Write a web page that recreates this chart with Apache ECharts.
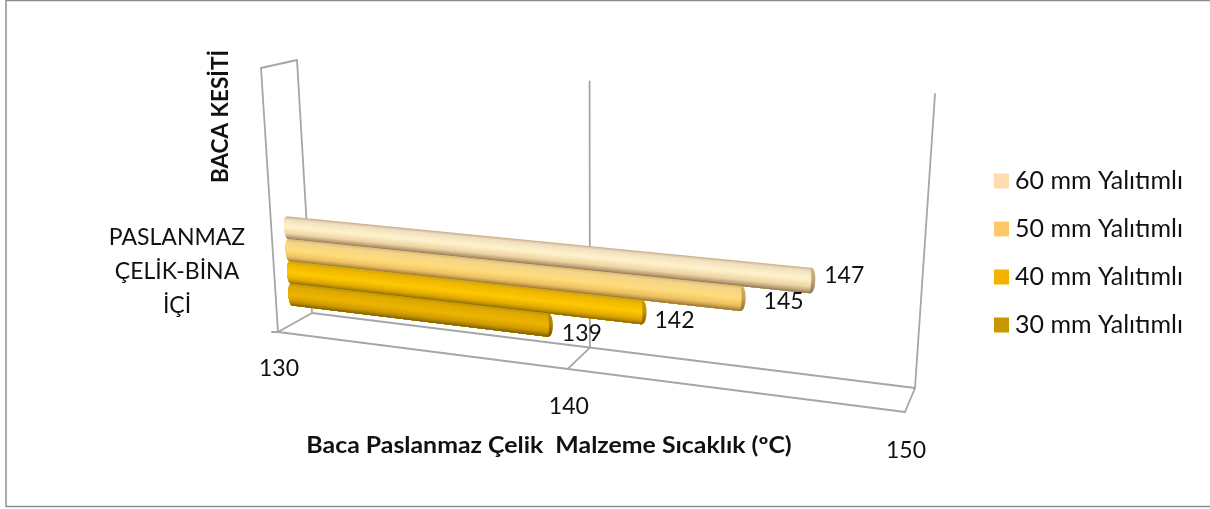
<!DOCTYPE html>
<html><head><meta charset="utf-8">
<style>html,body{margin:0;padding:0;background:#fff}#c{width:1210px;height:509px}</style>
<script src="https://cdn.jsdelivr.net/npm/echarts@6/dist/echarts.min.js"></script>
</head><body><div id="c"></div>
<script>
const categories = ['PASLANMAZ\nÇELİK-BİNA\nİÇİ'];
const seriesNames = ['60 mm Yalıtımlı','50 mm Yalıtımlı','40 mm Yalıtımlı','30 mm Yalıtımlı'];
const seriesValues = [147,145,142,139];
const xTicks = [130,140,150];
const xAxisTitle = 'Baca Paslanmaz Çelik  Malzeme Sıcaklık (ºC)';
const yAxisTitle = 'BACA KESİTİ';

const FONT = 'Lato, Carlito, sans-serif';
const legendColors = ['#FFDBAE','#FEC86A','#F3B200','#C89600'];
const shades = [
 [[0,'#C4A988'],[.12,'#F0DFBE'],[.45,'#FFF3CC'],[.75,'#EDD4A2'],[.92,'#B89C74'],[1,'#8C7658']],
 [[0,'#DDBA70'],[.14,'#F4D58A'],[.5,'#FFDC7A'],[.78,'#EFC262'],[.92,'#BE9848'],[1,'#947434']],
 [[0,'#CFA20E'],[.14,'#EDB600'],[.5,'#FFC800'],[.78,'#E3AB00'],[.92,'#B48A00'],[1,'#886600']],
 [[0,'#BE9408'],[.14,'#DEA900'],[.5,'#EDB400'],[.78,'#CF9B00'],[.92,'#A27C00'],[1,'#765A00']]
];
const labelOffsets = [[37,-7],[46,1],[36,6],[37,7]];
const wallTop = [1,0.98,1];

/* projection of the ECharts plot square onto the chart's 3D box */
function homography(p00,p10,p11,p01){
  const dx1=p10[0]-p11[0],dx2=p01[0]-p11[0],sx=p00[0]-p10[0]+p11[0]-p01[0];
  const dy1=p10[1]-p11[1],dy2=p01[1]-p11[1],sy=p00[1]-p10[1]+p11[1]-p01[1];
  const den=dx1*dy2-dx2*dy1;
  const g=(sx*dy2-dx2*sy)/den,h=(dx1*sy-sx*dy1)/den;
  const a=p10[0]-p00[0]+g*p10[0],b=p01[0]-p00[0]+h*p01[0],c=p00[0];
  const d=p10[1]-p00[1]+g*p10[1],e=p01[1]-p00[1]+h*p01[1],f=p00[1];
  return (u,v)=>{const w=g*u+h*v+1;return [(a*u+b*v+c)/w,(d*u+e*v+f)/w];};
}
const backPlane = homography([312,313],[915,388],[935,94],[297,60]);
const frontPlane = homography([278,332],[905,412],[922,107],[261,68]);
function project(u,v,depth){
  const f=frontPlane(u,v),b=backPlane(u,v);
  return [f[0]+(b[0]-f[0])*depth,f[1]+(b[1]-f[1])*depth];
}
const BAR_DEPTH=.36, BAR_H0=.115, BAR_STEP=.088, BAR_HALF=.044, STRIPS=22, BAR_DX=3, BAR_DY=-2;

function hex(c){return [1,3,5].map(i=>parseInt(c.substr(i,2),16));}
function ramp(stops,t){
  for(let i=1;i<stops.length;i++){
    if(t<=stops[i][0]){
      const a=hex(stops[i-1][1]),b=hex(stops[i][1]),k=(t-stops[i-1][0])/(stops[i][0]-stops[i-1][0]);
      return 'rgb('+a.map((x,j)=>Math.round(x+(b[j]-x)*k)).join(',')+')';
    }
  }
  return stops[stops.length-1][1];
}
function unitX(params,api,val){
  const cs=params.coordSys;
  return (api.coord([val,0])[0]-cs.x)/cs.width;
}

function barRender(si){
  return function(params,api){
    const u=unitX(params,api,api.value(0));
    const level=BAR_H0+(seriesValues.length-1-si)*BAR_STEP;
    const children=[];
    const cross=(uu,t)=>{const p=project(uu,level+BAR_HALF-2*BAR_HALF*t,BAR_DEPTH);return [p[0]+BAR_DX,p[1]+BAR_DY];};
    const bulge=t=>Math.sqrt(Math.max(0,1-Math.pow(2*t-1,2)));
    const N=22;
    for(let k=0;k<STRIPS;k++){
      const t0=k/STRIPS,col=ramp(shades[si],(k+.5)/STRIPS);
      // each strip runs from its own upper edge down to the bar's lower edge, painted over the previous one
      const poly=[];
      for(let j=0;j<=N;j++){const t=t0+(1-t0)*j/N,p=cross(u,t);poly.push([p[0]+bulge(t),p[1]]);}
      for(let j=N;j>=0;j--){const t=t0+(1-t0)*j/N,p=cross(0,t);poly.push([p[0]-3*bulge(t),p[1]]);}
      children.push({type:'polygon',shape:{points:poly},style:{fill:col},silent:true});
    }
    const cap=[];
    for(let k=0;k<=N;k++){const t=k/N,p=cross(u,t);cap.push([p[0]+1+4*bulge(t),p[1]]);}
    for(let k=N;k>=0;k--){const t=k/N,p=cross(u,t);cap.push([p[0]-1+2*bulge(t),p[1]]);}
    const mid0=cross(u,0),mid1=cross(u,1);
    children.push({type:'polygon',shape:{points:cap},style:{
      fill:new echarts.graphic.LinearGradient(mid0[0],mid0[1],mid1[0],mid1[1],
        [{offset:0,color:ramp(shades[si],.84)},{offset:.5,color:ramp(shades[si],.9)},{offset:1,color:ramp(shades[si],1)}],true)},silent:true});
    const c=cross(u,.5),o=labelOffsets[si];
    children.push({type:'text',silent:true,style:{text:String(api.value(0)),x:c[0]+o[0]-BAR_DX,y:c[1]+o[1]-BAR_DY,
      font:'23px '+FONT,fill:'#111',textAlign:'center',textVerticalAlign:'middle'}});
    return {type:'group',children};
  };
}

const wireStyle={stroke:'#A6A6A6',lineWidth:1.8,lineCap:'round'};
function line(a,b){return {type:'line',silent:true,shape:{x1:a[0],y1:a[1],x2:b[0],y2:b[1]},style:wireStyle};}
function frameRender(params,api){
  const val=api.value(0),u=unitX(params,api,val),kids=[];
  kids.push(line(project(u,0,0),project(u,0,1)));
  kids.push(line(project(u,0,1),project(u,wallTop[params.dataIndex],1)));
  if(params.dataIndex===0){
    kids.push(line(project(0,0,0),project(1,0,0)));
    kids.push(line(project(0,0,1),project(1,0,1)));
    kids.push(line(project(0,0,0),project(0,1,0)));
    kids.push(line(project(0,1,0),project(0,1,1)));
    const p=project(0,0,0);
    kids.push(line([p[0]-6,p[1]],p));
  }
  const p=project(u,0,0);
  kids.push({type:'text',silent:true,style:{text:String(val),x:p[0]+1,y:p[1]+37+2*u,font:'23px '+FONT,fill:'#111',textAlign:'center',textVerticalAlign:'middle'}});
  return {type:'group',children:kids};
}

const chart=echarts.init(document.getElementById('c'),null,{renderer:'canvas'});
chart.setOption({
  animation:false,
  backgroundColor:'#fff',
  grid:{left:300,right:300,top:100,bottom:100},
  xAxis:{type:'value',min:xTicks[0],max:xTicks[xTicks.length-1],interval:10,show:false},
  yAxis:{type:'category',data:categories,show:false},
  legend:{
    data:seriesNames,orient:'vertical',left:989,top:162,itemWidth:15,itemHeight:15,itemGap:20,icon:'rect',
    textStyle:{fontFamily:FONT,fontSize:25,lineHeight:28,color:'#111',padding:[0,0,0,1]},selectedMode:false
  },
  graphic:[
    {type:'rect',silent:true,z:-1,shape:{x:6,y:0.5,width:1210,height:506},style:{fill:'#fff',stroke:'#8E8E8E',lineWidth:1.5}},
    {type:'text',silent:true,x:549,y:446,scaleX:1.13,style:{text:xAxisTitle,x:0,y:0,font:'bold 22px '+FONT,fill:'#111',textAlign:'center',textVerticalAlign:'middle'}},
    {type:'text',silent:true,rotation:Math.PI/2,x:221,y:116.5,style:{text:yAxisTitle,x:0,y:0,font:'bold 22.5px '+FONT,fill:'#111',textAlign:'center',textVerticalAlign:'middle'}},
    {type:'text',silent:true,style:{text:categories[0],x:177,y:271.5,font:'23px '+FONT,lineHeight:34,fill:'#111',textAlign:'center',textVerticalAlign:'middle'}}
  ],
  series:[
    {type:'custom',name:'frame',coordinateSystem:'cartesian2d',silent:true,clip:false,z:1,
     data:xTicks.map(t=>[t,0]),encode:{x:0,y:1},renderItem:frameRender},
    ...seriesNames.map((n,i)=>({
      type:'custom',name:n,coordinateSystem:'cartesian2d',silent:true,clip:false,z:2+i,
      itemStyle:{color:legendColors[i]},
      data:[[seriesValues[i],0]],encode:{x:0,y:1},renderItem:barRender(i)
    }))
  ]
});
</script></body></html>
